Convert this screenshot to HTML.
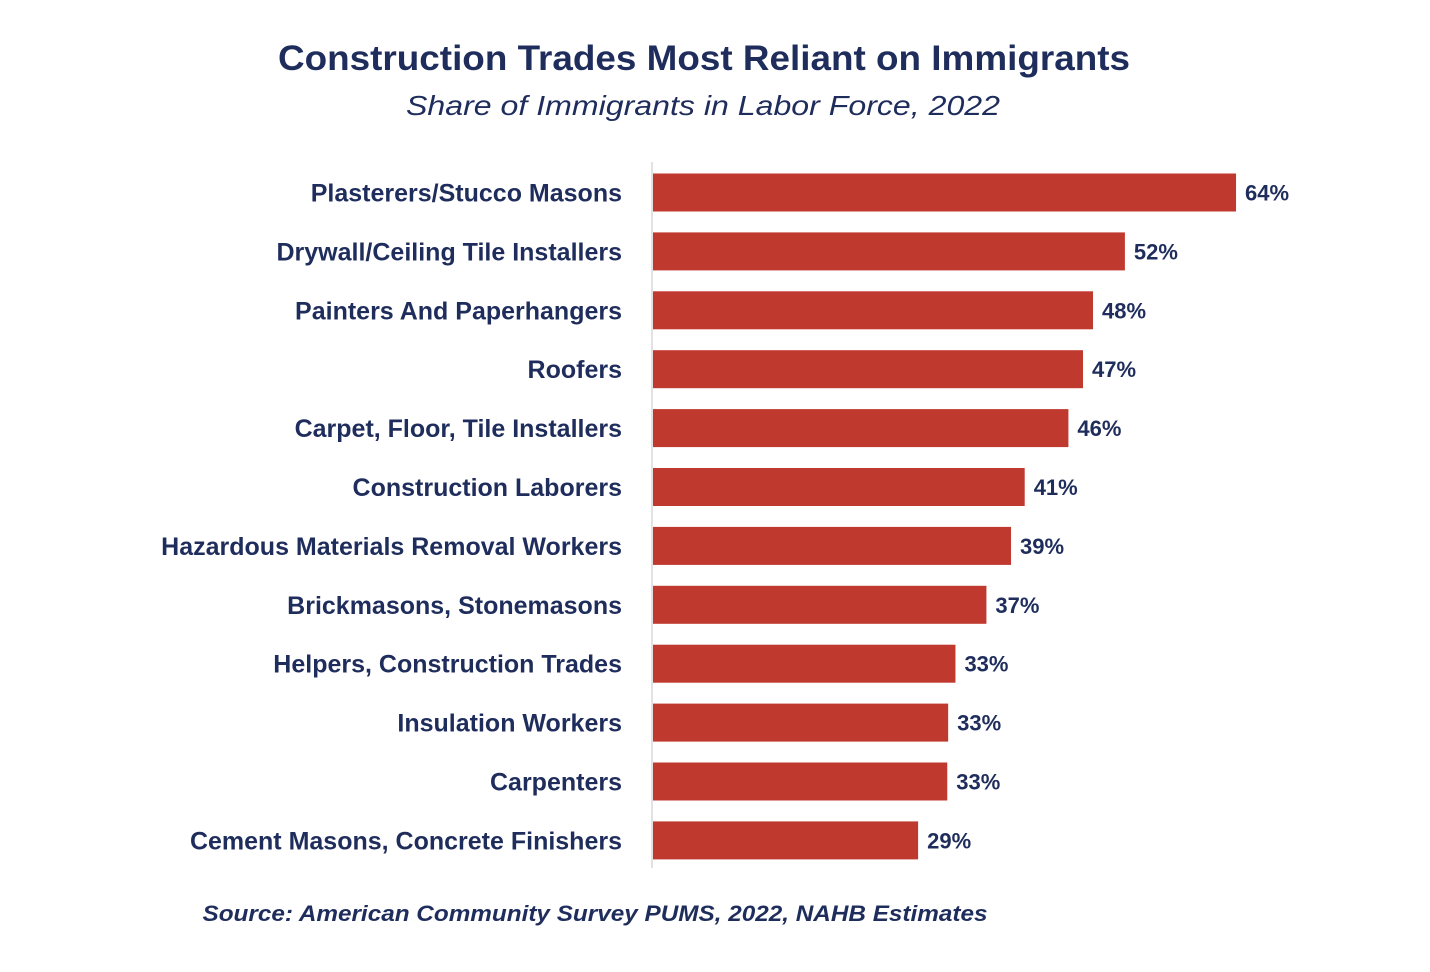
<!DOCTYPE html>
<html><head><meta charset="utf-8"><style>
html,body{margin:0;padding:0;background:#fff;}
svg{display:block;font-family:"Liberation Sans",sans-serif;}
</style></head><body>
<svg id="chart" width="1430" height="972" viewBox="0 0 1430 972">
<text x="704" y="70" text-anchor="middle" font-size="35" font-weight="bold" fill="#1f2d5c" textLength="852" lengthAdjust="spacingAndGlyphs">Construction Trades Most Reliant on Immigrants</text>
<text x="703" y="115" text-anchor="middle" font-size="28" font-style="italic" fill="#1f2d5c" textLength="594" lengthAdjust="spacingAndGlyphs">Share of Immigrants in Labor Force, 2022</text>
<line x1="652" y1="162" x2="652" y2="868" stroke="#d9d9d9" stroke-width="1.5"/>
<g id="bars"></g>
<text x="595" y="921" text-anchor="middle" font-size="22" font-style="italic" font-weight="bold" fill="#1f2d5c" textLength="785" lengthAdjust="spacingAndGlyphs">Source: American Community Survey PUMS, 2022, NAHB Estimates</text>
</svg>
<script>
const categories=["Plasterers/Stucco Masons","Drywall/Ceiling Tile Installers","Painters And Paperhangers","Roofers","Carpet, Floor, Tile Installers","Construction Laborers","Hazardous Materials Removal Workers","Brickmasons, Stonemasons","Helpers, Construction Trades","Insulation Workers","Carpenters","Cement Masons, Concrete Finishers"];
const values=[64,51.8,48.3,47.2,45.6,40.8,39.3,36.6,33.2,32.4,32.3,29.1];
const valueLabels=["64%","52%","48%","47%","46%","41%","39%","37%","33%","33%","33%","29%"];
const NS="http://www.w3.org/2000/svg";
const x0=653, pxPer=9.11, y0=192.5, step=58.9, bh=38;
const xs=v=>x0+v*pxPer;
const ys=i=>y0+i*step;
const g=document.getElementById('bars');
categories.forEach((c,i)=>{
  const cy=ys(i);
  const r=document.createElementNS(NS,'rect');
  r.setAttribute('x',x0);r.setAttribute('y',cy-bh/2);
  r.setAttribute('width',xs(values[i])-x0);r.setAttribute('height',bh);
  r.setAttribute('fill','#c0392f');
  
  
  g.appendChild(r);
  const t=document.createElementNS(NS,'text');
  t.setAttribute('x',622);t.setAttribute('y',cy+9);
  t.setAttribute('text-anchor','end');t.setAttribute('font-size','25');
  t.setAttribute('font-weight','bold');t.setAttribute('fill','#1f2d5c');
  t.textContent=c;
  
  
  g.appendChild(t);
  const v=document.createElementNS(NS,'text');
  v.setAttribute('x',xs(values[i])+9);v.setAttribute('y',cy+8);
  v.setAttribute('font-size','22');v.setAttribute('font-weight','bold');
  v.setAttribute('fill','#1f2d5c');
  v.textContent=valueLabels[i];
  
  
  g.appendChild(v);
});
</script>
</body></html>
